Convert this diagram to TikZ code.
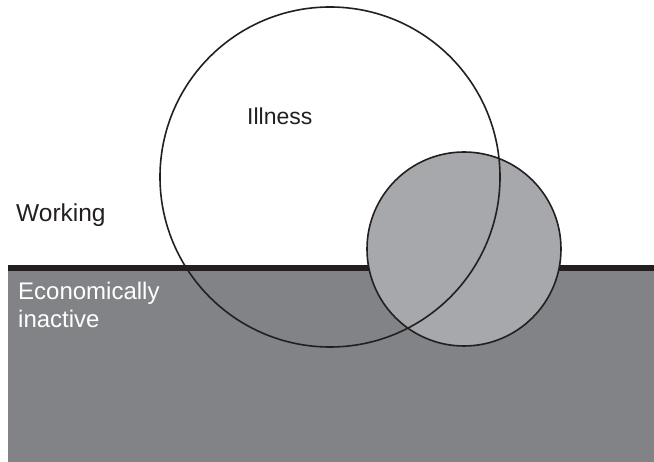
\documentclass[tikz,border=0pt]{standalone}
\usepackage{fontspec}
\setmainfont{Liberation Sans}
\usepackage{tikz}
\usetikzlibrary{positioning}
\definecolor{mygri1}{RGB}{130,131,135}
\definecolor{mygri2}{RGB}{167,168,172}
\definecolor{myblk}{RGB}{35,31,32}
\tikzstyle{area} = [fill=mygri1, draw=none]
\tikzstyle{border} = [line width=6pt, myblk]
\tikzstyle{bigset} = [circle, minimum size=340pt, draw=myblk, line width=1.6pt, inner sep=0pt]
\tikzstyle{smallset} = [circle, minimum size=194pt, draw=myblk, fill=mygri2, line width=1.6pt, inner sep=0pt]
\tikzstyle{label} = [anchor=base west, inner sep=0pt, font=\fontsize{23pt}{27pt}\selectfont, text=myblk]
\tikzstyle{whitelabel} = [label, text=white, align=left, font=\fontsize{24pt}{28pt}\selectfont]

\begin{document}
\begin{tikzpicture}[x=1pt,y=-1pt]
	\useasboundingbox (0,0) rectangle (654,462);
	\fill [area] (8,268) rectangle (654,462);
	\coordinate (lineL) at (8,268);
	\coordinate (lineR) at (654,268);
	\draw [border] (lineL) -- (lineR);
	\node (sick) [smallset] at (464,249) {};
	\node (ill) [bigset] at (330,177) {};
	\node (illtxt) [label] at (247,125) {Illness};
	\node (work) [label, font=\fontsize{24.5pt}{28pt}\selectfont] at (16,222) {Working};
	\node (inact) [whitelabel] at (18,328) {Economically\\inactive};
\end{tikzpicture}
\end{document}
